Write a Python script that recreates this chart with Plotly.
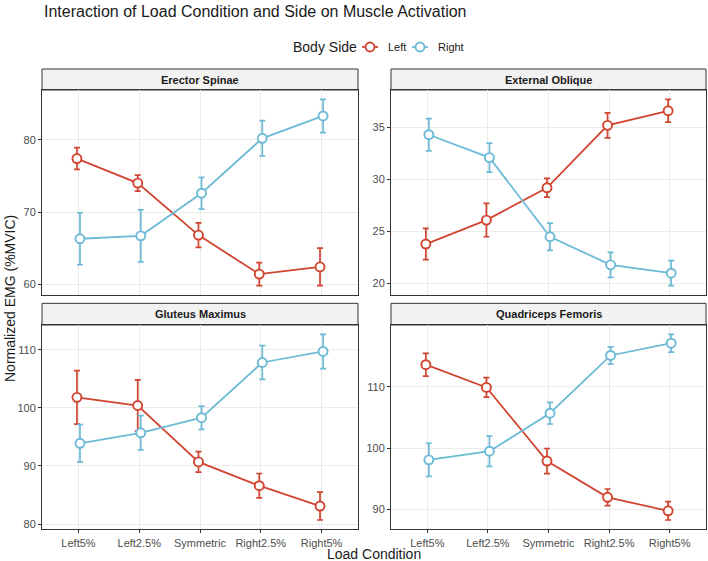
import plotly.graph_objects as go

W, H = 708, 561

conditions = ["Left5%", "Left2.5%", "Symmetric", "Right2.5%", "Right5%"]
muscles = ["Erector Spinae", "External Oblique", "Gluteus Maximus", "Quadriceps Femoris"]
sides = ["Left", "Right"]

erector_left = [77.4, 74.0, 66.8, 61.4, 62.4]
erector_left_se = [1.5, 1.1, 1.7, 1.6, 2.6]
erector_right = [66.3, 66.7, 72.6, 80.2, 83.3]
erector_right_se = [3.6, 3.6, 2.2, 2.45, 2.3]

oblique_left = [23.8, 26.1, 29.2, 35.2, 36.6]
oblique_left_se = [1.5, 1.6, 0.9, 1.2, 1.1]
oblique_right = [34.3, 32.1, 24.5, 21.8, 21.0]
oblique_right_se = [1.55, 1.4, 1.3, 1.2, 1.2]

gluteus_left = [101.8, 100.4, 90.7, 86.6, 83.1]
gluteus_left_se = [4.6, 4.4, 1.75, 2.1, 2.4]
gluteus_right = [93.9, 95.7, 98.3, 107.8, 109.7]
gluteus_right_se = [3.2, 2.95, 2.0, 2.9, 2.95]

quad_left = [113.6, 109.9, 97.9, 92.0, 89.8]
quad_left_se = [1.85, 1.6, 2.05, 1.35, 1.5]
quad_right = [98.1, 99.5, 105.7, 115.1, 117.1]
quad_right_se = [2.7, 2.45, 1.76, 1.4, 1.45]

tick_vals = {
    "Erector Spinae": [60, 70, 80],
    "External Oblique": [20, 25, 30, 35],
    "Gluteus Maximus": [80, 90, 100, 110],
    "Quadriceps Femoris": [90, 100, 110],
}

data = {
    "Erector Spinae": (erector_left, erector_left_se, erector_right, erector_right_se),
    "External Oblique": (oblique_left, oblique_left_se, oblique_right, oblique_right_se),
    "Gluteus Maximus": (gluteus_left, gluteus_left_se, gluteus_right, gluteus_right_se),
    "Quadriceps Femoris": (quad_left, quad_left_se, quad_right, quad_right_se),
}

RED = "#D1442F"
BLUE = "#6CBAD6"
FONT = "Liberation Sans, Arial, sans-serif"

# panel geometry (px)
cols = [(42, 358), (391, 706)]
rows = [((69, 90), (90, 295)), ((303.3, 325), (325, 529.3))]

def px_x(v):
    return v / W

def px_y(v):
    return 1 - v / H

fig = go.Figure()
layout = dict(
    width=W, height=H,
    margin=dict(l=0, r=0, t=0, b=0),
    paper_bgcolor="white", plot_bgcolor="white",
    font=dict(family=FONT, color="#1A1A1A"),
    showlegend=False,
)
shapes = []
annotations = []

xs = list(range(len(conditions)))
dodge = 0.025

for i, m in enumerate(muscles):
    r, c = divmod(i, 2)
    ax = "" if i == 0 else str(i + 1)
    (sx0, sx1) = cols[c]
    (strip, plot) = rows[r]
    left, left_se, right, right_se = data[m]
    lo = min(min(a - b for a, b in zip(left, left_se)), min(a - b for a, b in zip(right, right_se)))
    hi = max(max(a + b for a, b in zip(left, left_se)), max(a + b for a, b in zip(right, right_se)))
    pad = (hi - lo) * 0.05
    for name, vals, se, col, off in (("Left", left, left_se, RED, -dodge), ("Right", right, right_se, BLUE, dodge)):
        fig.add_trace(go.Scatter(
            x=[x + off for x in xs], y=vals,
            mode="lines+markers",
            name=name, legendgroup=name, showlegend=False,
            line=dict(color=col, width=1.8),
            marker=dict(symbol="circle", size=9, color="white", line=dict(color=col, width=1.9)),
            error_y=dict(type="data", array=se, visible=True, color=col, thickness=1.7, width=3),
            xaxis="x" + ax, yaxis="y" + ax,
        ))
    bottom = r == 1
    layout["xaxis" + ax] = dict(
        domain=[px_x(sx0), px_x(sx1)], anchor="y" + ax,
        range=[-0.6, len(conditions) - 0.4],
        tickvals=xs, ticktext=conditions,
        showticklabels=bottom, ticks="outside" if bottom else "",
        ticklen=3, tickcolor="#333333", tickwidth=1,
        tickfont=dict(size=11, color="#4D4D4D", family=FONT),
        showgrid=True, gridcolor="#EBEBEB", gridwidth=1,
        zeroline=False, showline=True, mirror=True, linecolor="#333333", linewidth=1,
        fixedrange=True,
    )
    layout["yaxis" + ax] = dict(
        domain=[px_y(plot[1]), px_y(plot[0])], anchor="x" + ax,
        range=[lo - pad, hi + pad],
        tickvals=tick_vals[m],
        ticks="outside", ticklen=3, tickcolor="#333333", tickwidth=1,
        tickfont=dict(size=11, color="#4D4D4D", family=FONT),
        showgrid=True, gridcolor="#EBEBEB", gridwidth=1,
        zeroline=False, showline=True, mirror=True, linecolor="#333333", linewidth=1,
        fixedrange=True,
    )
    shapes.append(dict(
        type="rect", xref="paper", yref="paper",
        x0=px_x(sx0), x1=px_x(sx1), y0=px_y(strip[1]), y1=px_y(strip[0]),
        fillcolor="#F2F2F2", line=dict(color="#333333", width=1), layer="below",
    ))
    annotations.append(dict(
        text="<b>" + m + "</b>", xref="paper", yref="paper",
        x=px_x((sx0 + sx1) / 2), y=px_y((strip[0] + strip[1]) / 2),
        xanchor="center", yanchor="middle", showarrow=False,
        font=dict(size=11, color="#1A1A1A", family=FONT),
    ))

# title and axis titles
annotations.append(dict(
    text="Interaction of Load Condition and Side on Muscle Activation",
    xref="paper", yref="paper", x=px_x(42), y=px_y(12),
    xanchor="left", yanchor="middle", showarrow=False,
    font=dict(size=16, color="#1A1A1A", family=FONT),
))
annotations.append(dict(
    text="Load Condition", xref="paper", yref="paper",
    x=px_x((42 + 706) / 2), y=px_y(554), xanchor="center", yanchor="middle",
    showarrow=False, font=dict(size=14, color="#1A1A1A", family=FONT),
))
annotations.append(dict(
    text="Normalized EMG (%MVIC)", xref="paper", yref="paper",
    x=px_x(10), y=px_y(299), xanchor="center", yanchor="middle", textangle=-90,
    showarrow=False, font=dict(size=14, color="#1A1A1A", family=FONT),
))

# legend (ggplot-style key: short line with open circle)
LEG_Y = 47
annotations.append(dict(
    text="Body Side", xref="paper", yref="paper", x=px_x(291), y=px_y(LEG_Y),
    xanchor="left", yanchor="middle", showarrow=False,
    font=dict(size=14, color="#1A1A1A", family=FONT),
))
for side, col, cx, tx in (("Left", RED, 370, 386), ("Right", BLUE, 420, 436)):
    shapes.append(dict(
        type="line", xref="paper", yref="paper",
        x0=px_x(cx - 8), x1=px_x(cx + 8), y0=px_y(LEG_Y), y1=px_y(LEG_Y),
        line=dict(color=col, width=1.8),
    ))
    shapes.append(dict(
        type="circle", xref="paper", yref="paper",
        x0=px_x(cx - 4.5), x1=px_x(cx + 4.5), y0=px_y(LEG_Y + 4.5), y1=px_y(LEG_Y - 4.5),
        fillcolor="white", line=dict(color=col, width=1.9),
    ))
    annotations.append(dict(
        text=side, xref="paper", yref="paper", x=px_x(tx), y=px_y(LEG_Y),
        xanchor="left", yanchor="middle", showarrow=False,
        font=dict(size=11, color="#1A1A1A", family=FONT),
    ))

layout["shapes"] = shapes
layout["annotations"] = annotations

fig.update_layout(**layout)
fig.write_html("out.html")
